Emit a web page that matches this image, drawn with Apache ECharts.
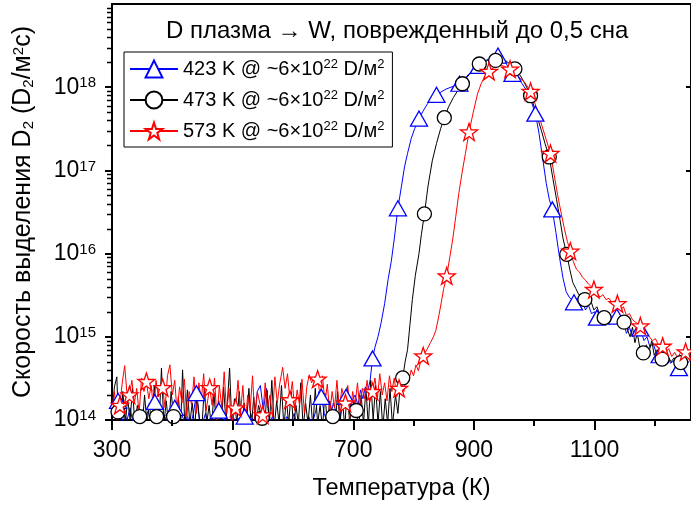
<!DOCTYPE html>
<html><head><meta charset="utf-8">
<script src="https://cdn.jsdelivr.net/npm/echarts@6/dist/echarts.min.js"></script>
<style>html,body{margin:0;padding:0;background:#fff}#c{width:691px;height:508px}</style>
</head><body><div id="c"></div>
<script>
const FONT = 'Liberation Sans, Arial, sans-serif';
const titleText = 'D плазма → W, поврежденный до 0,5 сна';
const seriesNames = ['423 K', '473 K', '573 K'];
const yTickExps = [14, 15, 16, 17, 18];
const xMinorVals = [400, 600, 800, 1000, 1200];

// 423 K (blue, triangles)
const blueT = [300,305,310,315,320,325,330,335,340,345,350,355,360,365,371,375,380,385,390,395,400,404,410,415,420,425,430,435,440,445,450,455,460,465,470,477,482,488,494,500,505,510,515,520,525,530,535,541,546,551,556,561,566,571,577,583,590,596,602,608,614,620,626,632,638,643,647,652,657,662,667,672,677,682,688,693,698,703,708,712,716,720,724,728,732,736,741,746,752,758,763,768,774,780,785,790,796,802,809,816,823,830,838,846,854,862,870,876,884,892,900,908,916,924,932,940,948,956,964,972,980,988,995,1002,1008,1014,1020,1025,1030,1036,1042,1048,1053,1058,1062,1066,1071,1075,1080,1085,1090,1095,1100,1104,1110,1115,1120,1125,1130,1137,1143,1148,1153,1158,1163,1168,1176,1182,1187,1192,1197,1202,1208,1214,1220,1226,1232,1240,1246,1252,1258];
const blueV = [1.3e14,1.1e14,1.7e14,0.8e14,1.2e14,1.0e14,1.4e14,0.9e14,1.1e14,0.85e14,1.2e14,1.0e14,1.3e14,0.9e14,1.65e14,1.1e14,0.9e14,1.2e14,1.0e14,0.8e14,1.1e14,1.4e14,0.9e14,1.2e14,0.95e14,1.1e14,0.85e14,1.2e14,2.1e14,1.0e14,0.9e14,1.2e14,0.85e14,1.1e14,0.9e14,1.3e14,0.8e14,1.1e14,0.9e14,1.2e14,0.85e14,1.05e14,0.9e14,1.1e14,0.85e14,1.2e14,0.9e14,2.2e14,2.6e14,1.3e14,2.4e14,0.9e14,1.1e14,0.8e14,1.0e14,0.85e14,1.1e14,0.9e14,1.2e14,0.8e14,1.0e14,0.85e14,1.1e14,0.9e14,1.3e14,2.2e14,1.9e14,1.2e14,0.9e14,1.1e14,1.6e14,1.2e14,1.0e14,1.5e14,1.9e14,1.3e14,1.7e14,2.0e14,1.5e14,2.3e14,1.8e14,2.5e14,2.2e14,3.0e14,5.5e14,7.5e14,1.0e15,1.45e15,2.5e15,5.0e15,8.0e15,1.5e16,3.5e16,6.5e16,1.1e17,1.6e17,2.4e17,3.2e17,4.2e17,5.2e17,6.3e17,7.2e17,8.1e17,8.8e17,9.5e17,1.0e18,1.05e18,1.1e18,1.25e18,1.45e18,1.65e18,1.8e18,2.0e18,2.2e18,2.35e18,2.4e18,2.2e18,1.8e18,1.45e18,1.3e18,1.1e18,9.0e17,6.8e17,4.8e17,2.8e17,1.4e17,7.0e16,4.5e16,3.4e16,1.8e16,9.0e15,5.0e15,3.5e15,3.0e15,2.8e15,2.6e15,2.9e15,2.3e15,2.7e15,2.1e15,2.4e15,1.9e15,2.0e15,1.7e15,1.9e15,1.6e15,1.8e15,1.4e15,1.7e15,1.75e15,1.3e15,1.5e15,1.1e15,1.3e15,1.0e15,1.2e15,1.26e15,9.0e14,1.0e15,7.5e14,8.5e14,6.5e14,6.0e14,5.5e14,6.2e14,4.8e14,5.2e14,4.2e14,5.0e14,4.6e14,5.2e14];
const blueMarkT = [310,371,404,440,477,520,647,688,732,774,809,838,876,908,940,964,1002,1030,1066,1104,1137,1176,1208,1240];

// 473 K (black, circles)
const blackT = [300,304,308,310,314,318,322,326,330,334,338,342,346,350,354,358,362,366,370,374,378,382,386,390,394,398,402,406,410,414,417,421,425,429,433,437,441,445,449,453,457,461,465,469,473,477,481,485,489,495,499,503,507,511,515,519,523,527,531,535,539,543,549,553,557,561,565,569,573,577,581,585,589,593,597,601,605,609,613,617,621,625,629,633,637,641,645,649,653,657,661,666,670,674,678,682,686,690,694,698,705,709,713,717,721,725,729,733,737,741,745,749,753,757,761,765,770,774,778,782,786,790,794,798,803,809,813,818,824,831,838,845,851,858,866,874,881,888,895,902,909,916,923,930,936,944,952,960,968,975,982,988,994,1000,1006,1012,1018,1025,1031,1037,1043,1048,1054,1059,1064,1069,1074,1079,1084,1089,1094,1099,1104,1109,1116,1122,1127,1132,1138,1143,1149,1155,1159,1163,1167,1171,1175,1181,1186,1190,1195,1199,1204,1208,1212,1217,1222,1227,1232,1237,1243,1249,1254,1258];
const blackV = [1.1e14,2.5e14,3.3e14,1.25e14,0.8e14,2.2e14,0.9e14,1.8e14,1.0e14,2.4e14,0.85e14,1.5e14,1.1e14,0.8e14,2.0e14,0.9e14,1.6e14,0.8e14,2.6e14,1.1e14,0.85e14,4.2e14,0.9e14,1.7e14,0.8e14,2.2e14,1.1e14,0.8e14,1.9e14,0.9e14,4.0e14,0.8e14,2.3e14,0.9e14,1.6e14,0.8e14,2.0e14,1.0e14,0.8e14,2.4e14,0.9e14,1.5e14,0.8e14,2.1e14,0.9e14,1.7e14,0.8e14,2.5e14,0.9e14,4.2e14,0.8e14,1.8e14,0.9e14,2.2e14,0.8e14,1.6e14,0.9e14,2.4e14,0.8e14,1.9e14,0.9e14,1.5e14,1.05e14,0.8e14,2.3e14,0.9e14,3.0e14,0.8e14,1.7e14,0.9e14,2.6e14,0.8e14,1.8e14,0.9e14,2.2e14,0.8e14,1.5e14,0.9e14,2.8e14,0.8e14,1.6e14,0.9e14,2.0e14,0.8e14,2.4e14,0.9e14,1.5e14,0.8e14,2.1e14,0.9e14,1.7e14,1.1e14,0.8e14,2.2e14,0.9e14,1.8e14,0.8e14,2.5e14,0.9e14,1.6e14,1.3e14,0.8e14,2.0e14,0.9e14,2.4e14,0.85e14,3.0e14,1.0e14,2.6e14,0.9e14,2.2e14,0.8e14,1.8e14,0.9e14,2.4e14,0.85e14,2.0e14,1.2e14,2.6e14,3.2e14,5.0e14,7.0e14,1.4e15,2.8e15,5.5e15,1.0e16,1.7e16,3.0e16,6.5e16,1.3e17,2.1e17,3.2e17,4.3e17,5.8e17,7.5e17,9.3e17,1.1e18,1.3e18,1.5e18,1.7e18,1.9e18,2.0e18,2.1e18,2.15e18,2.1e18,2.3e18,2.1e18,1.9e18,1.66e18,1.45e18,1.2e18,9.8e17,7.9e17,5.8e17,4.2e17,3.0e17,2.1e17,1.45e17,8.0e16,4.5e16,2.5e16,1.5e16,9.8e15,6.5e15,4.5e15,3.8e15,3.2e15,3.3e15,2.8e15,2.5e15,2.7e15,2.1e15,2.3e15,1.8e15,1.7e15,1.9e15,1.6e15,1.75e15,1.45e15,1.6e15,1.5e15,1.2e15,1.0e15,1.3e15,8.5e14,1.1e15,7.5e14,6.4e14,8.0e14,6.5e14,9.0e14,6.0e14,7.0e14,5.5e14,5.4e14,4.6e14,5.8e14,5.0e14,5.6e14,4.8e14,4.9e14,5.5e14,6.0e14,5.2e14];
const blackMarkT = [310,346,374,402,549,666,705,782,818,851,881,909,936,968,994,1025,1054,1084,1116,1149,1181,1212,1243];

// 573 K (red, stars)
const redT = [300,304,308,313,317,321,325,329,333,337,341,345,349,353,357,361,365,369,373,377,380,384,388,392,396,400,404,408,412,416,420,424,428,432,436,440,444,448,452,456,462,466,470,474,478,482,486,490,494,498,505,509,513,517,521,525,529,533,537,541,545,550,554,558,562,566,570,574,578,583,587,591,595,599,603,607,611,615,619,623,627,631,635,641,645,649,653,657,661,665,669,673,677,681,687,691,695,699,703,707,711,715,719,723,727,732,736,740,744,748,752,756,760,764,768,772,776,780,784,788,792,796,800,804,808,812,816,822,828,833,837,842,846,850,855,860,865,870,875,880,886,892,899,906,912,918,925,932,939,945,952,960,968,976,984,994,1000,1006,1012,1018,1027,1033,1039,1045,1050,1055,1060,1065,1070,1075,1080,1085,1090,1095,1099,1104,1109,1114,1119,1124,1129,1133,1138,1143,1148,1153,1158,1163,1168,1176,1181,1186,1191,1196,1201,1206,1213,1218,1223,1228,1233,1238,1244,1251,1256,1260];
const redV = [1.4e14,2.2e14,1.0e14,1.5e14,2.8e14,4.5e14,2.0e14,2.0e14,3.0e14,1.6e14,2.4e14,1.2e14,3.2e14,2.2e14,2.9e14,1.8e14,2.6e14,1.3e14,3.0e14,1.9e14,2.6e14,2.45e14,1.4e14,3.4e14,4.6e14,2.0e14,3.0e14,1.2e14,2.5e14,1.6e14,3.1e14,1.1e14,2.2e14,1.5e14,3.3e14,1.2e14,2.8e14,1.7e14,3.6e14,1.3e14,2.45e14,1.5e14,3.2e14,1.0e14,2.6e14,1.4e14,3.8e14,1.2e14,2.4e14,0.9e14,1.4e14,3.0e14,1.2e14,2.6e14,0.9e14,2.0e14,1.3e14,3.4e14,1.0e14,2.2e14,1.6e14,1.15e14,2.8e14,1.4e14,2.0e14,1.1e14,3.3e14,1.6e14,2.7e14,4.3e14,2.4e14,3.6e14,1.75e14,2.9e14,1.3e14,2.3e14,1.5e14,3.1e14,1.2e14,2.5e14,3.5e14,2.8e14,3.3e14,3.1e14,2.0e14,3.4e14,1.6e14,2.7e14,1.2e14,2.2e14,1.4e14,3.0e14,1.3e14,2.4e14,1.6e14,2.6e14,1.1e14,2.2e14,1.5e14,2.8e14,1.3e14,2.4e14,1.8e14,3.0e14,1.6e14,2.2e14,3.2e14,1.8e14,3.6e14,2.0e14,2.8e14,1.7e14,3.4e14,2.2e14,3.2e14,1.9e14,2.4e14,2.8e14,2.2e14,3.6e14,2.9e14,4.0e14,3.4e14,4.6e14,3.9e14,5.2e14,5.9e14,7.0e14,8.5e14,1.0e15,1.2e15,1.8e15,2.6e15,3.8e15,5.4e15,9.0e15,1.5e16,2.8e16,5.3e16,9.0e16,1.6e17,2.9e17,5.0e17,8.3e17,1.1e18,1.35e18,1.55e18,1.7e18,1.8e18,1.85e18,1.75e18,1.65e18,1.5e18,1.3e18,1.15e18,8.9e17,6.8e17,5.0e17,3.6e17,2.6e17,1.6e17,9.0e16,5.0e16,3.0e16,2.0e16,1.4e16,1.07e16,8.0e15,6.5e15,6.0e15,5.2e15,4.8e15,4.3e15,4.0e15,3.7e15,3.4e15,3.0e15,3.2e15,2.8e15,2.9e15,2.6e15,2.7e15,2.5e15,2.1e15,2.3e15,1.8e15,1.9e15,1.6e15,1.5e15,1.35e15,1.2e15,1.1e15,1.0e15,9.0e14,9.5e14,8.0e14,7.7e14,6.5e14,7.2e14,5.8e14,6.5e14,5.5e14,6.8e14,6.6e14,6.2e14,5.8e14];
const redMarkT = [313,329,357,384,462,505,550,595,641,687,732,776,816,855,892,925,960,994,1027,1060,1099,1138,1176,1213,1251];

const STAR = 'path://M50,2 L61.8,36.2 L97.6,36.2 L68.6,57.4 L79.4,91.6 L50,70.6 L20.6,91.6 L31.4,57.4 L2.4,36.2 L38.2,36.2 Z';

function mkSeries(name, T, V, marks, color, symbol, size) {
  const set = new Set(marks);
  return {
    type: 'line', name: name,
    data: T.map((t, i) => [t, V[i]]),
    xAxisIndex: 0, yAxisIndex: 0,
    symbol: symbol,
    symbolSize: (val) => set.has(val[0]) ? size : 0,
    showSymbol: true, showAllSymbol: true,
    clip: true,
    lineStyle: { color: color, width: 1 },
    itemStyle: { color: '#fff', borderColor: color, borderWidth: 1.3 },
    emphasis: { disabled: true },
    animation: false
  };
}

const legendRich = {
  t: { fontSize: 20, fontFamily: FONT, color: '#000', lineHeight: 22 },
  s: { fontSize: 13, fontFamily: FONT, color: '#000', lineHeight: 6, verticalAlign: 'top' }
};

const chart = echarts.init(document.getElementById('c'), null, { renderer: 'canvas' });
chart.setOption({
  animation: false,
  backgroundColor: '#fff',
  title: {
    text: titleText, left: 166, top: 19, padding: 0,
    textStyle: { fontSize: 24, fontWeight: 'normal', fontFamily: FONT, color: '#000' }
  },
  grid: { left: 112, right: -2, top: 4, bottom: 88, containLabel: false },
  legend: {
    data: seriesNames, orient: 'vertical', left: 124, top: 52,
    padding: [6, 8, 6, 5], itemGap: 10, itemWidth: 48, itemHeight: 21,
    borderColor: '#000', borderWidth: 1, backgroundColor: '#fff',
    formatter: (n) => '{t|' + n + ' @ ~6×10}{s|22}{t| D/м}{s|2}',
    textStyle: { fontSize: 20, fontFamily: FONT, color: '#000', rich: legendRich }
  },
  xAxis: [
    {
      type: 'value', position: 'bottom', min: 300, max: 1260, interval: 200,
      axisLine: { show: true, lineStyle: { color: '#000', width: 2 } },
      axisTick: { show: true, length: 10, lineStyle: { color: '#000', width: 2 } },
      axisLabel: { fontSize: 23, fontFamily: FONT, color: '#000', margin: 19, showMaxLabel: false,
                   formatter: (v) => String(v) },
      splitLine: { show: false },
      name: 'Температура (К)', nameLocation: 'middle', nameGap: 57,
      nameTextStyle: { fontSize: 23.5, fontFamily: FONT, color: '#000' }
    },
    {
      type: 'value', position: 'top', min: 300, max: 1260,
      axisLine: { show: true, lineStyle: { color: '#000', width: 2 } },
      axisTick: { show: false }, axisLabel: { show: false }, splitLine: { show: false }
    }
  ],
  yAxis: [
    {
      type: 'log', logBase: 10, min: 1e14, max: 1e19, position: 'left',
      axisLine: { show: true, lineStyle: { color: '#000', width: 2 } },
      axisTick: { show: true, length: 7, lineStyle: { color: '#000', width: 2 } },
      axisLabel: {
        margin: 16, showMaxLabel: false,
        formatter: (v) => {
          const e = Math.round(Math.log10(v));
          return yTickExps.indexOf(e) >= 0 ? '{b|10}{s|' + e + '}' : '';
        },
        rich: {
          b: { fontSize: 23, fontFamily: FONT, color: '#000', lineHeight: 23 },
          s: { fontSize: 15, fontFamily: FONT, color: '#000', lineHeight: 6, verticalAlign: 'top' }
        }
      },
      splitLine: { show: false },
      name: '{n|Скорость выделения D}{sub|2}{n| (D}{sub|2}{n|/м}{sup|2}{n|с)}',
      nameLocation: 'middle', nameGap: 76, nameRotate: 90,
      nameTextStyle: {
        fontSize: 25, fontFamily: FONT, color: '#000',
        rich: {
          n: { fontSize: 25, fontFamily: FONT, color: '#000', lineHeight: 25 },
          sub: { fontSize: 15, fontFamily: FONT, color: '#000', lineHeight: 10, verticalAlign: 'bottom' },
          sup: { fontSize: 15, fontFamily: FONT, color: '#000', lineHeight: 6, verticalAlign: 'top' }
        }
      }
    },
    {
      type: 'log', logBase: 10, min: 1e14, max: 1e19, position: 'right',
      axisLine: { show: true, lineStyle: { color: '#000', width: 2 } },
      axisTick: { show: true, inside: true, length: 5, lineStyle: { color: '#000', width: 2 } },
      axisLabel: { show: false }, splitLine: { show: false }
    }
  ],
  series: [
    mkSeries(seriesNames[0], blueT, blueV, blueMarkT, '#0000ff', 'triangle', [17, 15]),
    mkSeries(seriesNames[1], blackT, blackV, blackMarkT, '#000000', 'circle', 14),
    mkSeries(seriesNames[2], redT, redV, redMarkT, '#ff0000', STAR, 17)
  ]
});

// minor ticks placed through the axes' own scales
const g = [];
const xLeft = chart.convertToPixel({ xAxisIndex: 0 }, 300);
const yBottom = chart.convertToPixel({ yAxisIndex: 0 }, 1e14);
for (let k = 14; k < 19; k++) {
  for (let m = 2; m <= 9; m++) {
    const y = Math.round(chart.convertToPixel({ yAxisIndex: 0 }, m * Math.pow(10, k))) + 0.5;
    g.push({ type: 'line', silent: true, z: 10,
      shape: { x1: xLeft - 5, y1: y, x2: xLeft, y2: y },
      style: { stroke: '#000', lineWidth: 1.5 } });
  }
}
xMinorVals.forEach((v) => {
  const x = Math.round(chart.convertToPixel({ xAxisIndex: 0 }, v));
  g.push({ type: 'line', silent: true, z: 10,
    shape: { x1: x, y1: yBottom, x2: x, y2: yBottom + 6 },
    style: { stroke: '#000', lineWidth: 2 } });
});
chart.setOption({ graphic: g });
</script>
</body></html>
